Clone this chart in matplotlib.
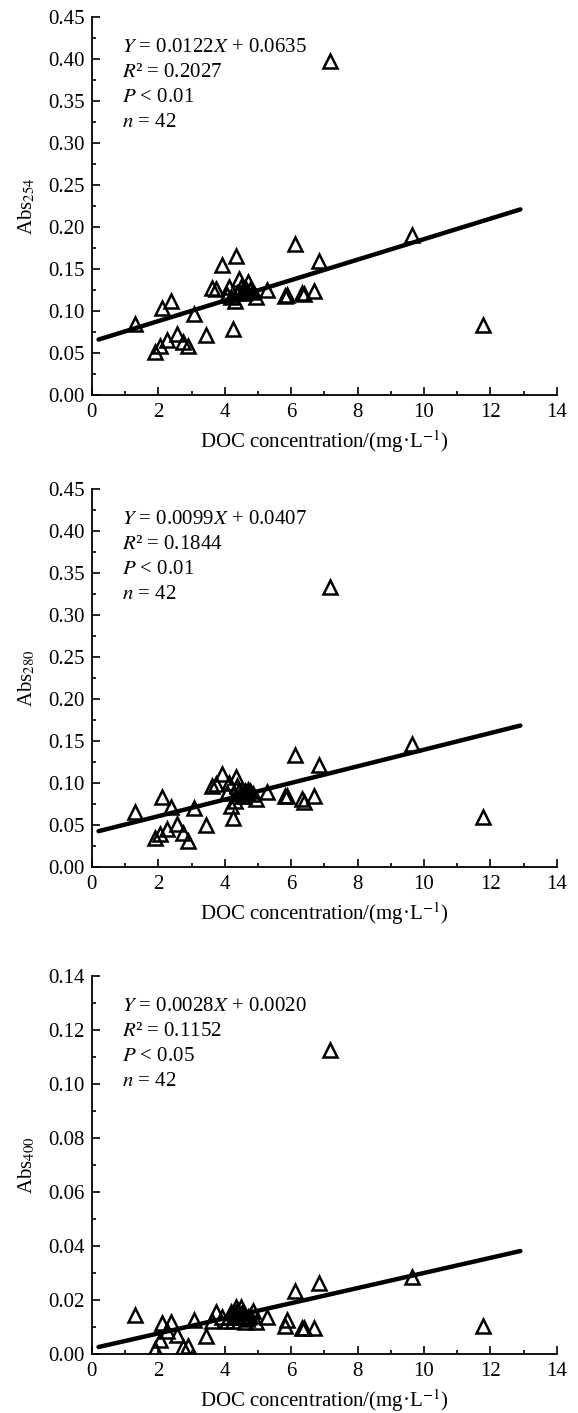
import numpy as np
import matplotlib
matplotlib.use("Agg")
import matplotlib.pyplot as plt
from matplotlib.ticker import MultipleLocator

plt.rcParams['font.family'] = ['Liberation Serif', 'DejaVu Serif']
plt.rcParams['mathtext.fontset'] = 'stix'

# DOC concentration (mg/L), shared by all three panels
doc = [1.30, 1.90, 2.04, 2.10, 2.25, 2.38, 2.56, 2.73, 2.90, 3.08, 3.43, 3.62, 3.73, 3.91,
       4.08, 4.12, 4.18, 4.24, 4.30, 4.35, 4.37, 4.43, 4.49, 4.53, 4.57, 4.62, 4.67, 4.71,
       4.77, 4.85, 4.93, 5.28, 5.82, 5.87, 6.11, 6.34, 6.39, 6.68, 6.83, 7.17, 9.64, 11.79]

abs254 = [0.085, 0.051, 0.058, 0.104, 0.065, 0.112, 0.073, 0.063, 0.058, 0.096, 0.071, 0.127,
          0.126, 0.155, 0.119, 0.129, 0.117, 0.078, 0.112, 0.165, 0.121, 0.138, 0.129, 0.123,
          0.121, 0.127, 0.124, 0.135, 0.125, 0.122, 0.117, 0.125, 0.118, 0.119, 0.180, 0.121,
          0.120, 0.124, 0.159, 0.398, 0.191, 0.083]

abs280 = [0.065, 0.034, 0.039, 0.083, 0.045, 0.071, 0.051, 0.040, 0.031, 0.070, 0.050, 0.096,
          0.099, 0.111, 0.088, 0.100, 0.073, 0.058, 0.079, 0.107, 0.096, 0.090, 0.088, 0.085,
          0.084, 0.091, 0.088, 0.092, 0.090, 0.087, 0.081, 0.089, 0.084, 0.085, 0.133, 0.081,
          0.078, 0.084, 0.122, 0.333, 0.146, 0.060]

abs400 = [0.0144, 0.0018, 0.0052, 0.0116, 0.0086, 0.0117, 0.0071, 0.0025, 0.0031, 0.0127,
          0.0065, 0.0123, 0.0154, 0.0135, 0.0123, 0.0135, 0.0156, 0.0123, 0.0148, 0.0172,
          0.0160, 0.0135, 0.0172, 0.0150, 0.0135, 0.0117, 0.0130, 0.0135, 0.0140, 0.0160,
          0.0117, 0.0135, 0.0105, 0.0125, 0.0234, 0.0096, 0.0096, 0.0096, 0.0264, 0.1126,
          0.0285, 0.0105]

# regression: slope, intercept, R2, P label
slopes = [0.0122, 0.0099, 0.0028]
intercepts = [0.0635, 0.0407, 0.0020]
r2 = ["0.2027", "0.1844", "0.1152"]
p_text = ["0.01", "0.01", "0.05"]
ylabels = ["Abs$_{254}$", "Abs$_{280}$", "Abs$_{400}$"]
ymax = [0.45, 0.45, 0.14]
ystep = [0.05, 0.05, 0.02]
series = [abs254, abs280, abs400]

fig = plt.figure(figsize=(5.78, 14.13), dpi=100)
bottoms = [0.7205, 0.3864, 0.0418]
fit_x = np.array([0.2, 12.9])

for i in range(3):
    ax = fig.add_axes([0.159, bottoms[i], 0.8045, 0.2675])
    ax.plot(fit_x, slopes[i] * fit_x + intercepts[i], color='black', lw=3.2,
            solid_capstyle='round', zorder=2)
    ax.plot(doc, series[i], linestyle='none', marker='^', markersize=10,
            markerfacecolor='none', markeredgecolor='black', markeredgewidth=1.8, zorder=3)

    ax.set_xlim(0, 14)
    ax.set_ylim(0, ymax[i])
    ax.xaxis.set_major_locator(MultipleLocator(2))
    ax.xaxis.set_minor_locator(MultipleLocator(1))
    ax.yaxis.set_major_locator(MultipleLocator(ystep[i]))
    ax.yaxis.set_minor_locator(MultipleLocator(ystep[i] / 2))
    ax.yaxis.set_major_formatter(matplotlib.ticker.FormatStrFormatter('%.2f'))
    ax.tick_params(which='both', direction='in', width=1.2, labelsize=15)
    ax.tick_params(axis='x', pad=6)
    ax.tick_params(axis='y', pad=5)
    ax.tick_params(which='major', length=6)
    ax.tick_params(which='minor', length=3)
    for s in ['top', 'right']:
        ax.spines[s].set_visible(False)
    for s in ['left', 'bottom']:
        ax.spines[s].set_linewidth(1.3)

    ax.set_xlabel("DOC concentration/(mg·L$^{-1}$)", fontsize=15, labelpad=4)
    ax.set_ylabel(ylabels[i], fontsize=15)
    ax.yaxis.set_label_coords(-0.118, 0.5)

    lines = ["$Y$ = %.4f$X$ + %.4f" % (slopes[i], intercepts[i]),
             "$R$² = " + r2[i],
             "$P$ < " + p_text[i],
             "$n$ = 42"]
    for k, t in enumerate(lines):
        ax.text(0.064, 0.92 - k * 0.066, t, transform=ax.transAxes, fontsize=15,
                va='center', ha='left')

fig.savefig("out.png", dpi=100)
